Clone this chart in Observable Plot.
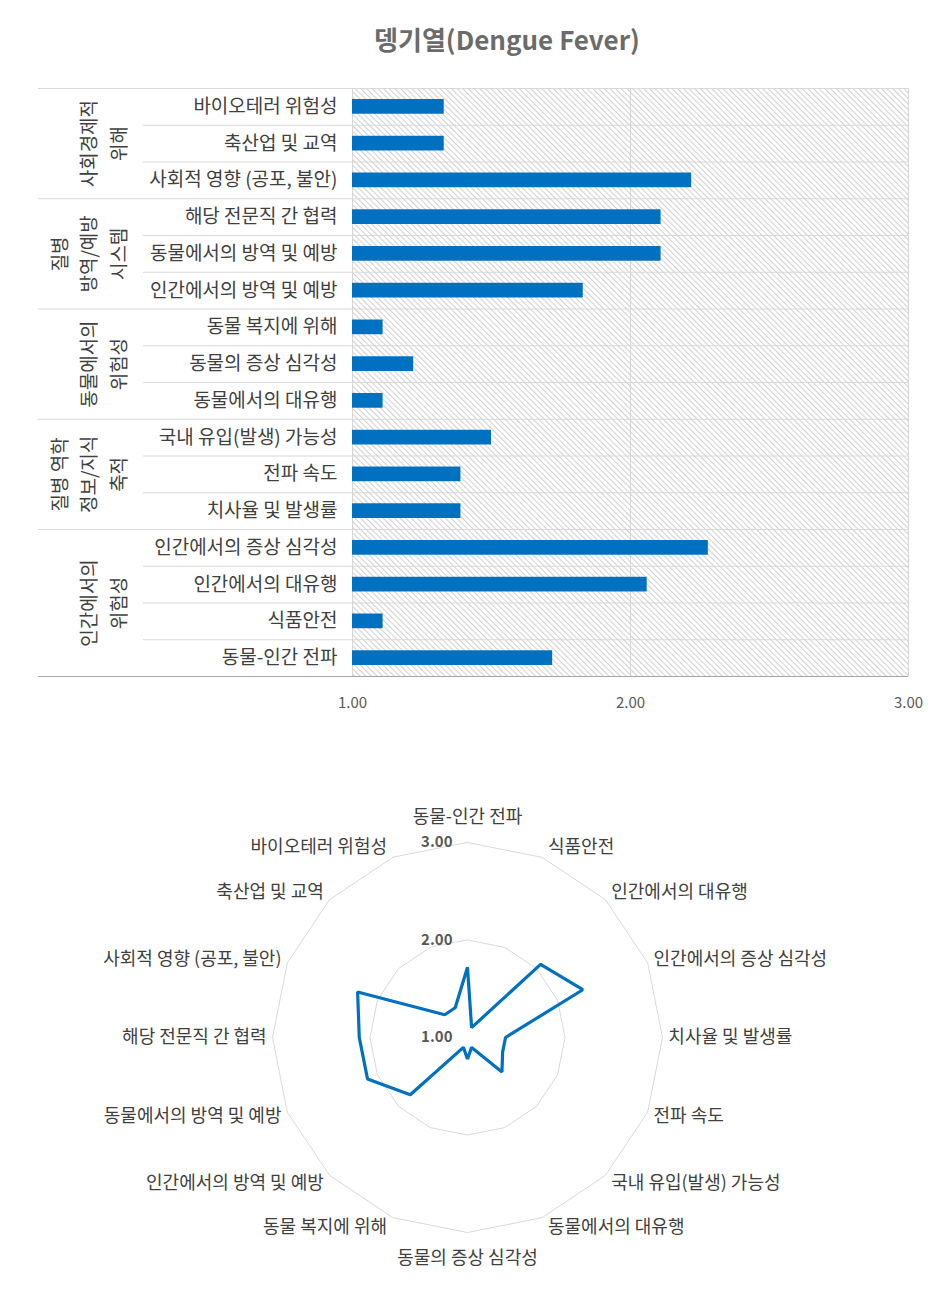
<!DOCTYPE html>
<html><head><meta charset="utf-8">
<script src="https://cdn.jsdelivr.net/npm/d3@7"></script>
<script src="https://cdn.jsdelivr.net/npm/@observablehq/plot@0.6"></script>
<style>
body{margin:0;background:#fff;font-family:"Noto Sans CJK KR","Noto Sans",sans-serif;}
#wrap{position:relative;width:937px;height:1305px;overflow:hidden;}
#title{position:absolute;top:26px;left:507px;transform:translateX(-50%);font-size:26px;font-weight:bold;color:#6b6b6b;white-space:nowrap;line-height:1;}
#bar{position:absolute;top:0;left:0;}
#radar{position:absolute;top:730px;left:0;}
</style></head><body>
<div id="wrap"><div id="bar"></div><div id="radar"></div><div id="title">뎅기열(Dengue Fever)</div></div>
<script>
// ---- data ----
const categories = ["바이오테러 위험성","축산업 및 교역","사회적 영향 (공포, 불안)","해당 전문직 간 협력","동물에서의 방역 및 예방","인간에서의 방역 및 예방","동물 복지에 위해","동물의 증상 심각성","동물에서의 대유행","국내 유입(발생) 가능성","전파 속도","치사율 및 발생률","인간에서의 증상 심각성","인간에서의 대유행","식품안전","동물-인간 전파"];
const scores = [1.33,1.33,2.22,2.11,2.11,1.83,1.11,1.22,1.11,1.50,1.39,1.39,2.28,2.06,1.11,1.72];
const groupLabels = ["사회경제적\n위해","질병\n방역/예방\n시스템","동물에서의\n위험성","질병 역학\n정보/지식\n축적","인간에서의\n위험성"];
const groupSizes = [3,3,3,3,4];
const xTicks = [1,2,3];
const radarTicks = [1,2,3];

const FONT = '"Noto Sans CJK KR","Noto Sans",sans-serif';
const BLUE = "#0070C0";
const fmt = d3.format(".2f");

// ---- bar chart ----
const rows = categories.map((c,i)=>({c, v: scores[i], i}));
const groups = [];
let s = 0;
groupSizes.forEach((n,k)=>{ groups.push({label: groupLabels[k], start: s, mid: s + n/2}); s += n; });
const groupStarts = groups.map(g=>g.start);
const rowLines = d3.range(1, categories.length).filter(i => !groupStarts.includes(i));

const bar = Plot.plot({
  width: 937, height: 730,
  marginTop: 88, marginBottom: 54, marginLeft: 352, marginRight: 29,
  style: {fontFamily: FONT, background: "transparent", overflow: "visible"},
  x: {domain: [xTicks[0], xTicks[xTicks.length-1]], axis: null},
  y: {domain: [categories.length, 0], axis: null},
  marks: [
    Plot.frame({fill: "url(#hatch)", stroke: "none"}),
    Plot.ruleX(xTicks, {stroke: "#d6d6d6"}),
    Plot.ruleY(rowLines, {stroke: "#d9d9d9", insetLeft: -209}),
    Plot.ruleY(groupStarts, {stroke: "#d9d9d9", insetLeft: -314}),
    Plot.ruleY([categories.length], {stroke: "#a6a6a6", insetLeft: -314}),
    Plot.rect(rows, {x1: d => xTicks[0], x2: "v", y1: d => d.i + 0.3, y2: d => d.i + 0.7, fill: BLUE}),
    Plot.text(rows, {y: d => d.i + 0.5, text: "c", frameAnchor: "left", textAnchor: "end", dx: -15, fontSize: 19, fill: "#404040"}),
    Plot.text(groups, {y: "mid", text: "label", frameAnchor: "left", textAnchor: "middle", dx: -227, rotate: -90, lineAnchor: "bottom", lineHeight: 1.55, fontSize: 19, fill: "#404040"}),
    Plot.axisX(xTicks, {tickSize: 0, tickPadding: 21, tickFormat: fmt, fontSize: 15, fill: "#595959", label: null})
  ]
});
const defs = d3.select(bar).insert("defs", ":first-child");
const pat = defs.append("pattern").attr("id","hatch").attr("patternUnits","userSpaceOnUse")
  .attr("width",4).attr("height",4).attr("patternTransform","rotate(-45)");
pat.append("rect").attr("width",4).attr("height",4).attr("fill","#ffffff");
pat.append("line").attr("x1",0.5).attr("y1",0).attr("x2",0.5).attr("y2",4).attr("stroke","#d2d2d2").attr("stroke-width",1.1);
document.getElementById("bar").appendChild(bar);

// ---- radar chart ----
const W = 937, H = 575, cx = 467, cy = 307, unit = 97.5;
const rmin = radarTicks[0];
const rCats = categories.slice().reverse();
const rVals = scores.slice().reverse();
const N = rCats.length;
const ang = k => 2 * Math.PI * k / N;
const pts = rCats.map((c,k)=>({c, v: rVals[k], a: ang(k)}));
const rings = radarTicks.slice(1).flatMap(t => d3.range(N).map(k => ({t, a: ang(k)})));
const px = (v,a) => (v - rmin) * Math.sin(a);
const py = (v,a) => (v - rmin) * Math.cos(a);
const outer = radarTicks[radarTicks.length-1] - rmin;
const labels = pts.map(d => {
  const sn = Math.sin(d.a), cs = Math.cos(d.a);
  const side = Math.abs(sn) < 1e-6 ? "mid" : (sn > 0 ? "right" : "left");
  return {c: d.c, side,
    x: outer * sn + (side === "mid" ? 0 : Math.sign(sn) * 0.06),
    y: side === "mid" ? Math.sign(cs) * (outer + 0.26) : (outer + 0.11) * cs};
});

const radar = Plot.plot({
  width: W, height: H, margin: 0,
  style: {fontFamily: FONT, background: "transparent", overflow: "visible"},
  x: {domain: [-cx/unit, (W-cx)/unit], axis: null},
  y: {domain: [-(H-cy)/unit, cy/unit], axis: null},
  marks: [
    Plot.line(rings, {x: d => px(d.t, d.a), y: d => py(d.t, d.a), z: "t", curve: "linear-closed", stroke: "#d9d9d9", strokeWidth: 1}),
    Plot.line(pts, {x: d => px(d.v, d.a), y: d => py(d.v, d.a), curve: "linear-closed", stroke: BLUE, strokeWidth: 3.2, strokeLinejoin: "miter"}),
    Plot.text(radarTicks, {x: d => 0, y: d => d - rmin, text: d => fmt(d), textAnchor: "end", dx: -15, fontSize: 15, fontWeight: "bold", fill: "#595959"}),
    Plot.text(labels.filter(d => d.side === "right"), {x: "x", y: "y", text: "c", textAnchor: "start", fontSize: 18, fill: "#404040"}),
    Plot.text(labels.filter(d => d.side === "left"), {x: "x", y: "y", text: "c", textAnchor: "end", fontSize: 18, fill: "#404040"}),
    Plot.text(labels.filter(d => d.side === "mid"), {x: "x", y: "y", text: "c", textAnchor: "middle", fontSize: 18, fill: "#404040"})
  ]
});
document.getElementById("radar").appendChild(radar);
</script>
</body></html>
